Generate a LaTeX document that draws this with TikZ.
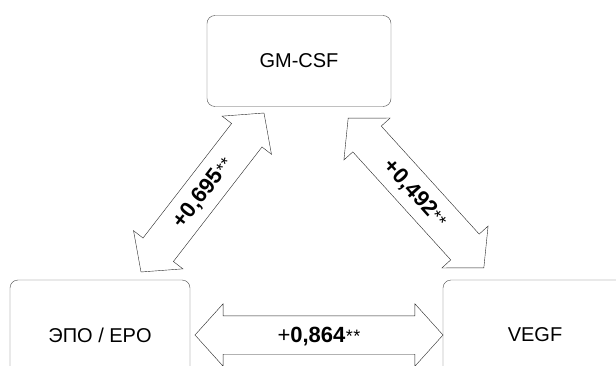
\documentclass[tikz,border=0pt]{standalone}
\usepackage{fontspec}
\setmainfont{Liberation Sans}
\usetikzlibrary{shapes.arrows}

\newcommand\sigmark{{\fontsize{18}{18}\selectfont\kern0.5pt*\kern0.5pt*}}

\begin{document}
\begin{tikzpicture}[x=1pt,y=1pt]
\tikzset{
  factorbox/.style={draw=black!70,rounded corners=8pt,minimum width=184pt,minimum height=91pt,font=\fontsize{20}{24}\selectfont},
  corrarrow/.style={double arrow,draw=black!85,thin,double arrow head extend=12pt,double arrow tip angle=96,
    inner xsep=2pt,inner ysep=12pt,text height=14pt,text depth=0pt,font=\fontsize{22}{24}\selectfont}
}
\clip (0,0) rectangle (616,365);
\node[factorbox] (gmcsf) at (299,304) {GM-CSF};
\node[factorbox,minimum width=180pt,minimum height=110pt] (epo) at (100,30) {ЭПО / EPO};
\node[factorbox,minimum height=110pt] (vegf) at (535,30) {VEGF};
\coordinate (epo_r) at (195,30);
\coordinate (vegf_l) at (443,30);
\coordinate (epo_t) at (141,93);
\coordinate (gm_l) at (264,252);
\coordinate (gm_r) at (348,247);
\coordinate (vegf_t) at (484,97);
\path (epo_r) -- node[corrarrow,minimum height=248pt] {+\textbf{0,864}\sigmark} (vegf_l);
\path (epo_t) -- node[corrarrow,sloped,minimum height=201pt] {\textbf{+0,695}\sigmark} (gm_l);
\path (gm_r) -- node[corrarrow,sloped,minimum height=202pt] {\textbf{+0,492}\sigmark} (vegf_t);
\end{tikzpicture}
\end{document}
